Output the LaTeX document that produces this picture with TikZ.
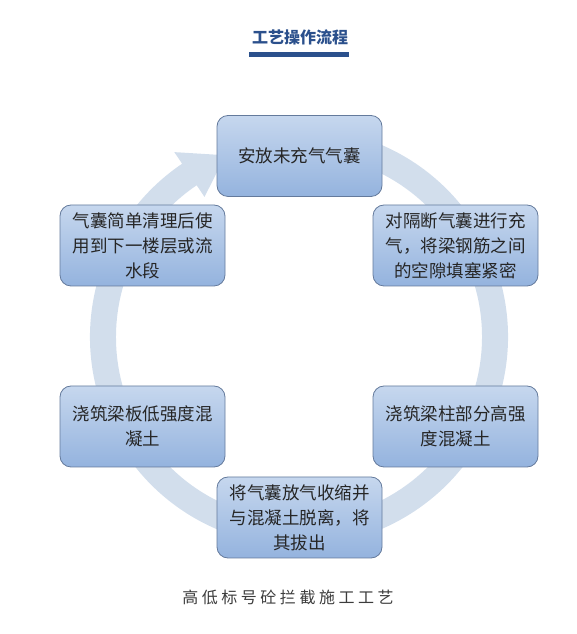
\documentclass[tikz,border=0pt]{standalone}
\usepackage{fontspec}
\setmainfont{Noto Sans CJK SC}
\newfontfamily\capfont[LetterSpace=22]{Noto Sans CJK SC}
\definecolor{titleblue}{RGB}{43,80,140}
\definecolor{ringblue}{RGB}{210,222,236}
\definecolor{boxtop}{RGB}{198,215,238}
\definecolor{boxbot}{RGB}{148,179,222}
\definecolor{boxline}{RGB}{100,122,156}
\definecolor{captext}{RGB}{60,60,60}

\begin{document}
\begin{tikzpicture}[x=1pt, y=1pt, stepbox/.style={draw=boxline, line width=0.8pt, rounded corners=11pt, top color=boxtop, bottom color=boxbot, minimum width=165pt, minimum height=81pt, text width=152pt, align=center, font=\fontsize{17.5}{25}\selectfont, text=black!85}, ring/.style={fill=ringblue}]

\useasboundingbox (0,0) rectangle (577,634);
\coordinate (c) at (299,297);
% ring arrow behind the steps
\fill[ring] ([shift={(c)}]76:209) arc[start angle=76, end angle=-236, radius=209] -- ([shift={(c)}]124:223) -- ([shift={(c)}]112:196) -- ([shift={(c)}]124:169) -- ([shift={(c)}]124:183) arc[start angle=-236, end angle=76, radius=183] -- cycle;

\node[font=\fontsize{16}{18}\selectfont\bfseries, text=titleblue] (title) at (300,597) {工艺操作流程};
\fill[titleblue] (249,582) rectangle (349,577);

\node[stepbox] (place) at (299.5,478) {安放未充气气囊};
\node[stepbox] (inflate) at (455.5,388.5) {对隔断气囊进行充\\气，将梁钢筋之间\\的空隙填塞紧密};
\node[stepbox] (high) at (455.5,207.5) {浇筑梁柱部分高强\\度混凝土};
\node[stepbox] (release) at (299.5,116.5) {将气囊放气收缩并\\与混凝土脱离，将\\其拔出};
\node[stepbox] (low) at (142.5,207.5) {浇筑梁板低强度混\\凝土};
\node[stepbox] (reuse) at (142.5,388.5) {气囊简单清理后使\\用到下一楼层或流\\水段};

\node[font=\capfont\fontsize{16}{18}\selectfont, text=captext] (caption) at (288,37) {高低标号砼拦截施工工艺};
\end{tikzpicture}
\end{document}
